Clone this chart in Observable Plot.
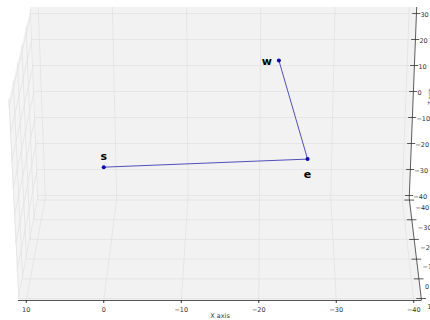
<!DOCTYPE html>
<html>
<head>
<meta charset="utf-8">
<script src="https://cdn.jsdelivr.net/npm/d3@7"></script>
<script src="https://cdn.jsdelivr.net/npm/@observablehq/plot@0.6"></script>
<style>
  html, body { margin: 0; padding: 0; background: #fff; overflow: hidden; }
  #chart svg { display: block; font-family: "DejaVu Sans", sans-serif; }
</style>
</head>
<body>
<div id="chart"></div>
<script>
// ---- data ----
const pointNames = ["s", "e", "w"];
const pointX = [0, -26.3, -22.6];
const pointZ = [-29.1, -26.0, 11.9];

const xTicks = [10, 0, -10, -20, -30, -40];
const yTicks = [-40, -30, -20, -10, 0, 10];
const zTicks = [30, 20, 10, 0, -10, -20, -30, -40];
const xLim = [11, -41];
const yLim = [-41, 11];
const zLim = [-41, 32.5];
const xAxisLabel = "X axis";
const zAxisLabel = "Z axis";

// ---- simple 3D view (depth y: back -> front) ----
function proj(x, d, z) {
  const t = (d - yLim[0]) / (yLim[1] - yLim[0]);
  const s = (z - zLim[0]) / (zLim[1] - zLim[0]);
  const m = 0.9206 * (1 - t) * (1 - s) + 0.9578 * (1 - t) * s + 1.0 * t * (1 - s) + 1.0496 * t * s;
  const u = -15 + (x + 15) * m - 0.48 * (1 - t);
  const yTop = zLim[1] - 35.96 * t, yBot = zLim[0] - 39.385 * t;
  return [u, yBot + (yTop - yBot) * s];
}
const fmt = v => v < 0 ? "\u2212" + Math.abs(v) : String(v);

function poly(corners) { return corners.map(c => { const [u, y] = proj(...c); return {u, y}; }); }
const backPane = poly([[xLim[0], yLim[0], zLim[0]], [xLim[0], yLim[0], zLim[1]], [xLim[1], yLim[0], zLim[1]], [xLim[1], yLim[0], zLim[0]]]);
const floorPane = poly([[xLim[0], yLim[0], zLim[0]], [xLim[1], yLim[0], zLim[0]], [xLim[1], yLim[1], zLim[0]], [xLim[0], yLim[1], zLim[0]]]);
const leftPane = poly([[xLim[0], yLim[0], zLim[0]], [xLim[0], yLim[0], zLim[1]], [xLim[0], yLim[1], zLim[1]], [xLim[0], yLim[1], zLim[0]]]);

function seg(a, b) { const p = proj(...a), q = proj(...b); return {x1: p[0], y1: p[1], x2: q[0], y2: q[1]}; }
const grid = [];
for (const z of zTicks) {
  grid.push(seg([xLim[0], yLim[0], z], [xLim[1], yLim[0], z]));       // back wall
  grid.push(seg([xLim[0], yLim[0], z], [xLim[0], yLim[1], z]));       // left wall
}
for (const x of xTicks) {
  grid.push(seg([x, yLim[0], zLim[0]], [x, yLim[0], zLim[1]]));       // back wall
  grid.push(seg([x, yLim[0], zLim[0]], [x, yLim[1], zLim[0]]));       // floor
}
for (const d of yTicks) {
  grid.push(seg([xLim[0], d, zLim[0]], [xLim[1], d, zLim[0]]));       // floor
  grid.push(seg([xLim[0], d, zLim[0]], [xLim[0], d, zLim[1]]));       // left wall
}

const axisLines = [
  seg([xLim[1], yLim[0], zLim[0]], [xLim[1], yLim[0], zLim[1]]),      // z axis
  seg([xLim[1], yLim[0], zLim[0]], [xLim[1], yLim[1], zLim[0]])       // y axis
];
const zTickRows = zTicks.map(z => { const [u, y] = proj(xLim[1], yLim[0], z); return {u, y, label: fmt(z)}; });
const yTickRows = yTicks.map(d => { const [u, y] = proj(xLim[1], d, zLim[0]); return {u, y, label: fmt(d)}; });
const zLabelRow = (() => { const [u, y] = proj(xLim[1], yLim[0], -2); return [{u, y, label: zAxisLabel}]; })();
const frontY = proj(0, yLim[1], zLim[0])[1];

const pts = pointNames.map((n, i) => ({name: n, x: pointX[i], z: pointZ[i]}));
const labelOffsets = {s: [0, -11], e: [0, 15], w: [-12, 1]};

const chart = Plot.plot({
  width: 430,
  height: 320,
  marginLeft: 18,
  marginRight: 9,
  marginTop: 0,
  marginBottom: 20,
  x: {domain: xLim, axis: null},
  y: {domain: [35 - 300 / 2.6, 35], axis: null},
  style: {background: "#fff", fontFamily: "DejaVu Sans, sans-serif", overflow: "visible"},
  marks: [
    Plot.line(backPane, {x: "u", y: "y", curve: "linear-closed", fill: "#f2f2f2", stroke: "none"}),
    Plot.line(floorPane, {x: "u", y: "y", curve: "linear-closed", fill: "#f2f2f2", stroke: "none"}),
    Plot.line(leftPane, {x: "u", y: "y", curve: "linear-closed", fill: "#f4f4f4", stroke: "none"}),
    Plot.link(grid, {x1: "x1", y1: "y1", x2: "x2", y2: "y2", stroke: "#e2e2e2", strokeWidth: 0.8}),
    Plot.link(axisLines, {x1: "x1", y1: "y1", x2: "x2", y2: "y2", stroke: "#333", strokeWidth: 0.8}),
    Plot.ruleY([frontY], {stroke: "#555", strokeWidth: 1}),
    Plot.link(zTickRows, {x1: d => d.u + 0.55, x2: d => d.u - 0.5, y1: "y", y2: "y", stroke: "#333", strokeWidth: 0.8}),
    Plot.text(zTickRows, {x: "u", y: "y", text: "label", dx: 4, dy: 1, textAnchor: "start", fontSize: 6.5, fill: "#333"}),
    Plot.link(yTickRows, {x1: d => d.u + 0.65, x2: d => d.u - 0.6, y1: "y", y2: "y", stroke: "#333", strokeWidth: 0.8}),
    Plot.text(yTickRows, {x: "u", y: "y", text: "label", dx: 6, dy: 8, textAnchor: "start", fontSize: 6.5, fill: "#333"}),
    Plot.text(zLabelRow, {x: "u", y: "y", text: "label", dx: 17, rotate: -90, fontSize: 5.5, fill: "#333"}),
    Plot.axisX({ticks: xTicks, tickFormat: fmt, tickSize: 3, tickPadding: 4, fontSize: 6.5, stroke: "#333", color: "#333", label: null}),
    Plot.text([xAxisLabel], {frameAnchor: "bottom", dy: 17, fontSize: 6.5, fill: "#333"}),
    Plot.line(pts, {x: "x", y: "z", stroke: "#3d3db3", strokeWidth: 0.9}),
    Plot.dot(pts, {x: "x", y: "z", r: 2, fill: "#0a0ab0", stroke: "none"}),
    ...pts.map(p => Plot.text([p], {x: "x", y: "z", text: "name", dx: labelOffsets[p.name][0], dy: labelOffsets[p.name][1], fontSize: 11, fontWeight: "bold", fill: "#000"}))
  ]
});
document.getElementById("chart").appendChild(chart);
</script>
</body>
</html>
